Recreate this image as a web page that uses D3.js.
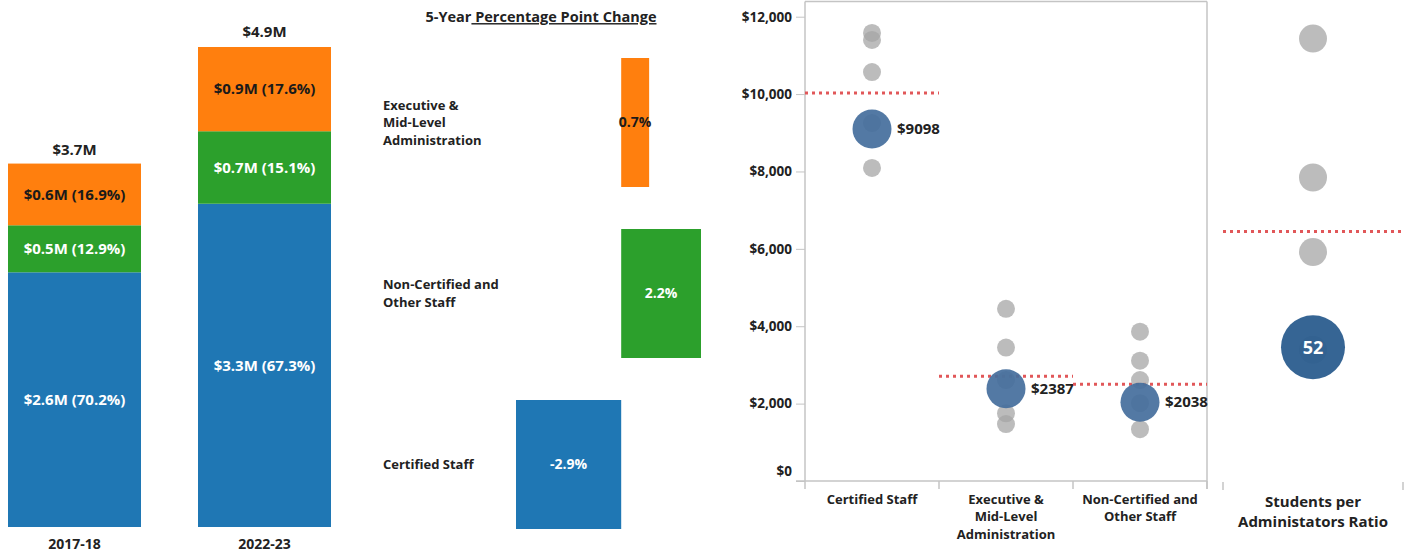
<!DOCTYPE html>
<html>
<head>
<meta charset="utf-8">
<script src="https://cdn.jsdelivr.net/npm/d3@7"></script>
<style>
  body { margin: 0; background: #fff; }
  svg text { font-family: "Open Sans", sans-serif; font-weight: 700; fill: #222; }
</style>
</head>
<body>
<div id="chart"></div>
<script>
// stacked spend by year ($M) and share of total (%)
const years = ["2017-18", "2022-23"];
const certifiedM = [2.6, 3.3];
const nonCertifiedM = [0.48, 0.74];
const executiveM = [0.63, 0.86];
const certifiedPct = [70.2, 67.3];
const nonCertifiedPct = [12.9, 15.1];
const executivePct = [16.9, 17.6];
const totalsM = [3.7, 4.9];

// 5-year percentage point change
const changeCats = ["Executive & Mid-Level Administration", "Non-Certified and Other Staff", "Certified Staff"];
const changePts = [0.77, 2.2, -2.9];
const changeLabels = ["0.7%", "2.2%", "-2.9%"];

// per-student spend, comparison districts (grey) and this district (blue)
const staffCats = ["Certified Staff", "Executive & Mid-Level Administration", "Non-Certified and Other Staff"];
const certifiedDots = [11580, 11400, 10570, 9250, 8090];
const executiveDots = [4450, 3450, 2610, 1750, 1470];
const nonCertifiedDots = [3860, 3110, 2610, 2010, 1340];
const staffAverages = [9098, 2387, 2038];
const staffRefs = [10030, 2710, 2500];
const yTicks = [0, 2000, 4000, 6000, 8000, 10000, 12000];

// students per administrator
const ratioCat = "Students per Administators Ratio";
const ratioDots = [172, 118, 89, 51];
const ratioValue = 52;
const ratioRef = 97;

const catLines = {
  "Executive & Mid-Level Administration": ["Executive &", "Mid-Level", "Administration"],
  "Non-Certified and Other Staff": ["Non-Certified and", "Other Staff"],
  "Certified Staff": ["Certified Staff"],
  "Students per Administators Ratio": ["Students per", "Administators Ratio"],
};

const colors = { cert: "#1f77b4", non: "#2ca02c", exec: "#ff7f0e" };
const refRed = "#e15759";
const axisGrey = "#c4c4c4";

const svg = d3
  .select("#chart")
  .append("svg")
  .attr("width", 1404)
  .attr("height", 555);

// ---------- Stacked bars ----------
const rows = years.map((y, i) => ({
  year: y,
  cert: certifiedM[i],
  non: nonCertifiedM[i],
  exec: executiveM[i],
  certPct: certifiedPct[i],
  nonPct: nonCertifiedPct[i],
  execPct: executivePct[i],
  total: totalsM[i],
}));

const xYear = d3.scaleBand().domain(years).range([8, 331]).paddingInner(0.3);
const yM = d3.scaleLinear().domain([0, 4.9]).range([527, 47]);

const stacked = d3.stack().keys(["cert", "non", "exec"])(rows);

const gStack = svg.append("g");
stacked.forEach((layer) => {
  const key = layer.key;
  const g = gStack.append("g");
  g.selectAll("rect")
    .data(layer)
    .enter()
    .append("rect")
    .attr("x", (d) => xYear(d.data.year))
    .attr("y", (d) => yM(d[1]))
    .attr("width", xYear.bandwidth())
    .attr("height", (d) => yM(d[0]) - yM(d[1]))
    .attr("fill", colors[key]);
  g.selectAll("text")
    .data(layer)
    .enter()
    .append("text")
    .attr("x", (d) => xYear(d.data.year) + xYear.bandwidth() / 2)
    .attr("y", (d) => (yM(d[0]) + yM(d[1])) / 2)
    .attr("dy", "0.35em")
    .attr("text-anchor", "middle")
    .style("font-size", "15px")
    .style("fill", key === "exec" ? "#1a1a1a" : "#fff")
    .text((d) => `$${d.data[key].toFixed(1)}M (${d.data[key + "Pct"].toFixed(1)}%)`);
});

gStack
  .selectAll(".total")
  .data(rows)
  .enter()
  .append("text")
  .attr("class", "total")
  .attr("x", (d) => xYear(d.year) + xYear.bandwidth() / 2)
  .attr("y", (d) => yM(d.total) - 15)
  .attr("dy", "0.35em")
  .attr("text-anchor", "middle")
  .style("font-size", "15px")
  .text((d) => `$${d.total.toFixed(1)}M`);

gStack
  .selectAll(".year")
  .data(years)
  .enter()
  .append("text")
  .attr("class", "year")
  .attr("x", (d) => xYear(d) + xYear.bandwidth() / 2)
  .attr("y", 544)
  .attr("dy", "0.35em")
  .attr("text-anchor", "middle")
  .style("font-size", "14px")
  .text((d) => d);

// ---------- Percentage point change ----------
const xChg = d3.scaleLinear().domain([-2.9, 2.2]).range([516, 701]);
const yChg = d3.scaleBand().domain(changeCats).range([58, 529]).paddingInner(0.2456);
const chgColors = [colors.exec, colors.non, colors.cert];

const title = svg
  .append("text")
  .attr("x", 541)
  .attr("y", 17)
  .attr("dy", "0.35em")
  .attr("text-anchor", "middle")
  .style("font-size", "14.5px");
title.append("tspan").text("5-Year");
title.append("tspan").style("text-decoration", "underline").text(" Percentage Point Change");

const gChg = svg.append("g");
changeCats.forEach((c, i) => {
  const v = changePts[i];
  gChg
    .append("rect")
    .attr("x", xChg(Math.min(0, v)))
    .attr("y", yChg(c))
    .attr("width", Math.abs(xChg(v) - xChg(0)))
    .attr("height", yChg.bandwidth())
    .attr("fill", chgColors[i]);
  gChg
    .append("text")
    .attr("x", (xChg(v) + xChg(0)) / 2)
    .attr("y", yChg(c) + yChg.bandwidth() / 2)
    .attr("dy", "0.35em")
    .attr("text-anchor", "middle")
    .style("font-size", "14px")
    .style("fill", i === 0 ? "#1a1a1a" : "#fff")
    .text(changeLabels[i]);

  const lines = catLines[c];
  const cy = yChg(c) + yChg.bandwidth() / 2;
  lines.forEach((ln, j) => {
    gChg
      .append("text")
      .attr("x", 383)
      .attr("y", cy + (j - (lines.length - 1) / 2) * 17.5)
      .attr("dy", "0.35em")
      .style("font-size", "13px")
      .text(ln);
  });
});

// ---------- Per-student spend scatter ----------
const xStaff = d3.scaleBand().domain(staffCats).range([805, 1207]);
const yStaff = d3.scaleLinear().domain([0, 12000]).range([481, 16.7]);
const staffDots = [certifiedDots, executiveDots, nonCertifiedDots];

const gAxis = svg
  .append("g")
  .attr("transform", "translate(805,0)")
  .call(
    d3
      .axisLeft(yStaff)
      .tickValues(yTicks)
      .tickFormat((d) => "$" + d3.format(",")(d))
      .tickSize(9)
      .tickPadding(4)
  );
gAxis.select(".domain").remove();
gAxis.selectAll(".tick line").attr("stroke", axisGrey);
gAxis.selectAll(".tick text").style("font-size", "13.5px").attr("fill", null);
gAxis
  .selectAll(".tick text")
  .filter((d) => d === 0)
  .attr("y", -10);

// frame
const frame = svg.append("g").attr("stroke", axisGrey).attr("stroke-width", 1.5).attr("fill", "none");
frame.append("line").attr("x1", 805).attr("x2", 1207).attr("y1", 1.5).attr("y2", 1.5);
frame.append("line").attr("x1", 805).attr("x2", 805).attr("y1", 1.5).attr("y2", 481);
frame.append("line").attr("x1", 1207).attr("x2", 1207).attr("y1", 1.5).attr("y2", 489);
frame.append("line").attr("x1", 796).attr("x2", 1207).attr("y1", 481).attr("y2", 481);
const bounds = staffCats.map((c) => xStaff(c)).concat([xStaff.range()[1]]);
frame
  .selectAll(".xtick")
  .data(bounds)
  .enter()
  .append("line")
  .attr("x1", (d) => d)
  .attr("x2", (d) => d)
  .attr("y1", 481)
  .attr("y2", 489);

const gStaff = svg.append("g");
staffCats.forEach((c, i) => {
  const cx = xStaff(c) + xStaff.bandwidth() / 2;
  gStaff
    .append("line")
    .attr("x1", xStaff(c))
    .attr("x2", xStaff(c) + xStaff.bandwidth())
    .attr("y1", yStaff(staffRefs[i]))
    .attr("y2", yStaff(staffRefs[i]))
    .attr("stroke", refRed)
    .attr("stroke-width", 3)
    .attr("stroke-dasharray", "3,4");
  gStaff
    .selectAll(".g" + i)
    .data(staffDots[i])
    .enter()
    .append("circle")
    .attr("cx", cx)
    .attr("cy", (d) => yStaff(d))
    .attr("r", 9)
    .attr("fill", "#a6a6a6")
    .attr("fill-opacity", 0.75);
  gStaff
    .append("circle")
    .attr("cx", cx)
    .attr("cy", yStaff(staffAverages[i]))
    .attr("r", 19.5)
    .attr("fill", "#446e9c")
    .attr("fill-opacity", 0.92);
  gStaff
    .append("text")
    .attr("x", cx + 25)
    .attr("y", yStaff(staffAverages[i]))
    .attr("dy", "0.35em")
    .style("font-size", "15px")
    .text("$" + staffAverages[i]);

  const lines = catLines[c];
  lines.forEach((ln, j) => {
    gStaff
      .append("text")
      .attr("x", cx)
      .attr("y", 499 + j * 17.5)
      .attr("dy", "0.35em")
      .attr("text-anchor", "middle")
      .style("font-size", "13px")
      .text(ln);
  });
});

// ---------- Students per administrator ----------
const xRatio = d3.scaleBand().domain([ratioCat]).range([1223, 1403]);
const yRatio = d3.scaleLinear().domain([0, 180]).range([481, 18]);
const rcx = xRatio(ratioCat) + xRatio.bandwidth() / 2;
const gRatio = svg.append("g");

gRatio
  .selectAll(".rtick")
  .data(xRatio.range())
  .enter()
  .append("line")
  .attr("x1", (d) => d)
  .attr("x2", (d) => d)
  .attr("y1", 482)
  .attr("y2", 490)
  .attr("stroke", axisGrey)
  .attr("stroke-width", 1.5);

gRatio
  .append("line")
  .attr("x1", xRatio.range()[0])
  .attr("x2", 1404)
  .attr("y1", yRatio(ratioRef))
  .attr("y2", yRatio(ratioRef))
  .attr("stroke", refRed)
  .attr("stroke-width", 3)
  .attr("stroke-dasharray", "3,4");

gRatio
  .selectAll(".rdot")
  .data(ratioDots)
  .enter()
  .append("circle")
  .attr("cx", rcx)
  .attr("cy", (d) => yRatio(d))
  .attr("r", 14)
  .attr("fill", "#a6a6a6")
  .attr("fill-opacity", 0.75);

gRatio
  .append("circle")
  .attr("cx", rcx)
  .attr("cy", yRatio(ratioValue))
  .attr("r", 32)
  .attr("fill", "#2b5d8e")
  .attr("fill-opacity", 0.95);

gRatio
  .append("text")
  .attr("x", rcx)
  .attr("y", yRatio(ratioValue))
  .attr("dy", "0.35em")
  .attr("text-anchor", "middle")
  .style("font-size", "18px")
  .style("fill", "#fff")
  .text(ratioValue);

catLines[ratioCat].forEach((ln, j) => {
  gRatio
    .append("text")
    .attr("x", rcx)
    .attr("y", 502 + j * 20)
    .attr("dy", "0.35em")
    .attr("text-anchor", "middle")
    .style("font-size", "15px")
    .text(ln);
});
</script>
</body>
</html>
